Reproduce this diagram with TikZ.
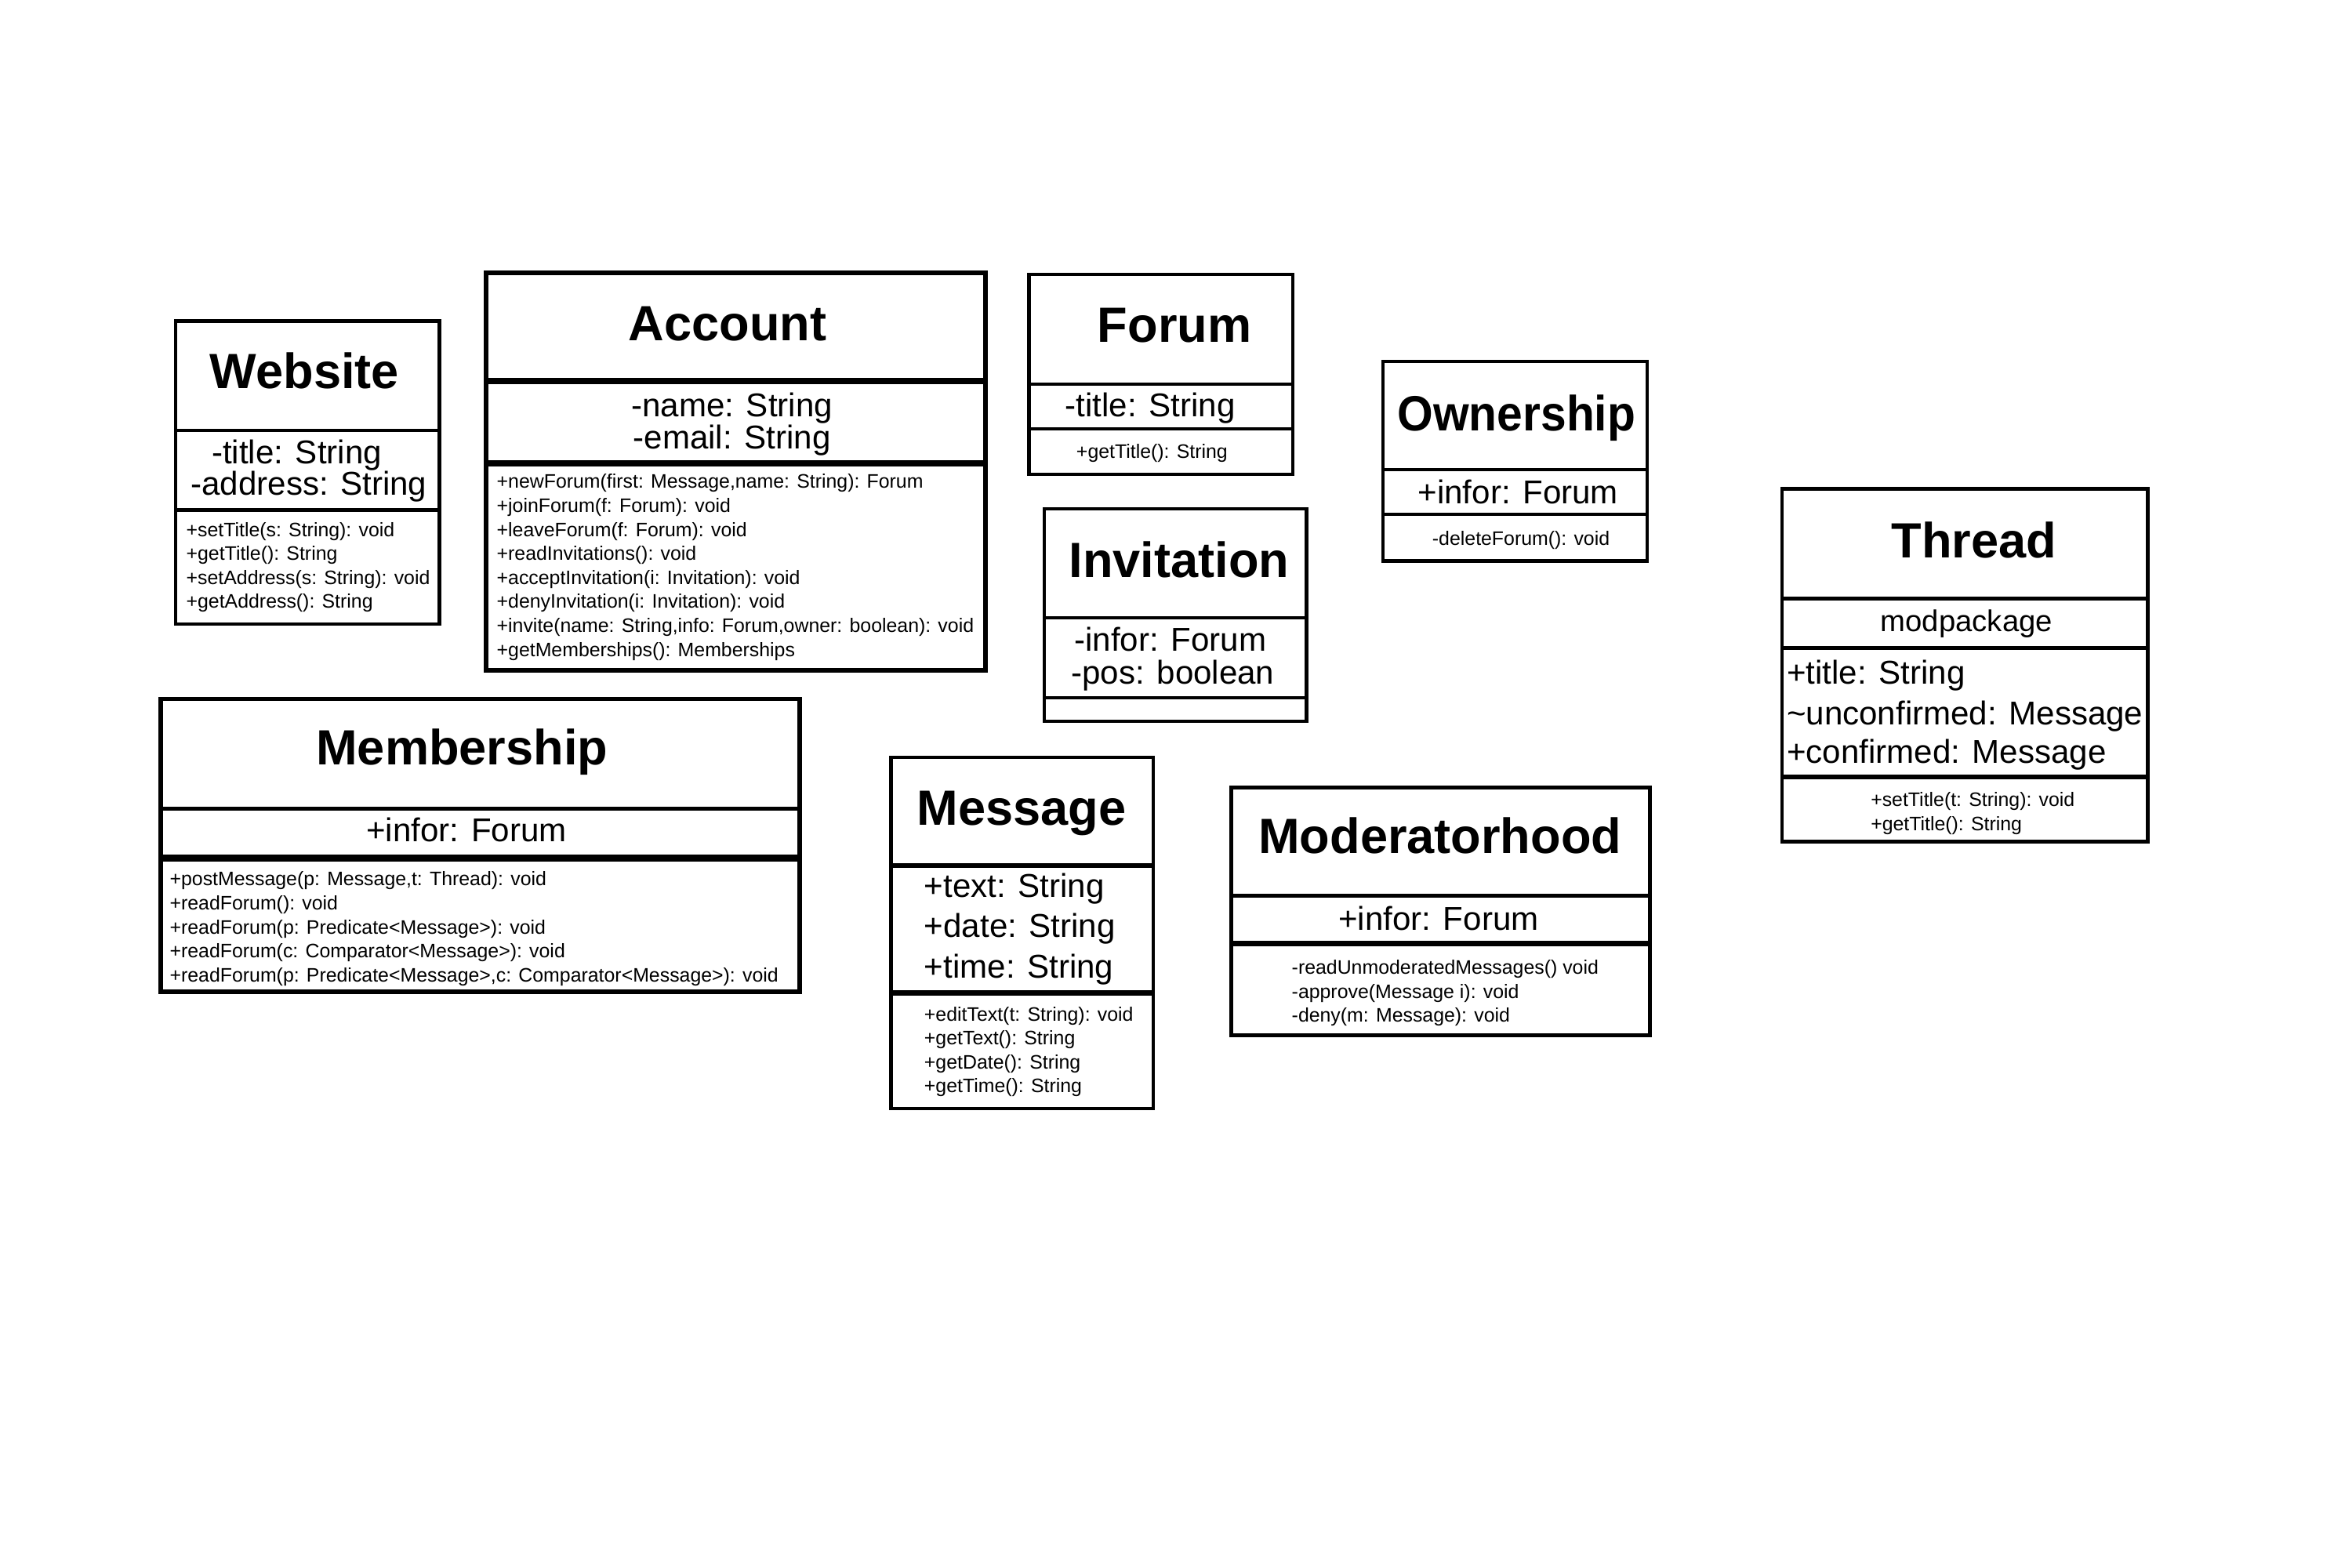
\documentclass[tikz,border=0pt]{standalone}
\usepackage{fontspec}
\setmainfont{Liberation Sans}
\begin{document}
\begin{tikzpicture}[x=1pt,y=-1pt,
  boxline/.style={line width=2.2pt},
  thickline/.style={line width=4pt},
  ttl/.style={font=\fontsize{33}{33}\selectfont\bfseries, inner sep=0pt, anchor=base},
  attr/.style={font=\fontsize{22}{22}\selectfont, inner sep=0pt, anchor=base west},
  attrc/.style={attr, anchor=base},
  pkg/.style={font=\fontsize{20}{20}\selectfont, inner sep=0pt, anchor=base},
  meth/.style={font=\fontsize{13}{16}\selectfont, inner sep=0pt, anchor=base west},
  methc/.style={meth, anchor=base}]
\useasboundingbox (0,0) rectangle (1568,1045);
\fill[white] (0,0) rectangle (1568,1045);

% ---------- Website ----------
\draw[boxline] (117,214) rectangle (293,416);
\draw[boxline] (117,287) -- (293,287);
\draw[boxline] (117,340) -- (293,340);
\node[ttl] (webT) at (203,259) {Website};
\node[attr] (webA1) at (141,309) {-title: String};
\node[attr] (webA2) at (127,330) {-address: String};
\foreach \t [count=\i] in {{+setTitle(s: String): void},{+getTitle(): String},{+setAddress(s: String): void},{+getAddress(): String}}
  \node[meth] (webM\i) at (124,{357.5+16*(\i-1)}) {\t};

% ---------- Account ----------
\draw[boxline, line width=3pt] (324,182) rectangle (657,447);
\draw[thickline] (324,254) -- (657,254);
\draw[thickline] (324,309) -- (657,309);
\node[ttl] (accT) at (485,227) {Account};
\node[attrc] (accA1) at (488,278) {-name: String};
\node[attrc] (accA2) at (488,299) {-email: String};
\foreach \t [count=\i] in {{+newForum(first: Message,name: String): Forum},{+joinForum(f: Forum): void},{+leaveForum(f: Forum): void},{+readInvitations(): void},{+acceptInvitation(i: Invitation): void},{+denyInvitation(i: Invitation): void},{+invite(name: String,info: Forum,owner: boolean): void},{+getMemberships(): Memberships}}
  \node[meth] (accM\i) at (331,{325.5+16*(\i-1)}) {\t};

% ---------- Forum ----------
\draw[boxline] (686,183) rectangle (862,316);
\draw[boxline] (686,256) -- (862,256);
\draw[boxline] (686,286) -- (862,286);
\node[ttl] (forT) at (783,228) {Forum};
\node[attr] (forA1) at (710,278) {-title: String};
\node[methc] (forM1) at (768,305.5) {+getTitle(): String};

% ---------- Invitation ----------
\draw[boxline] (696,339) rectangle (871,481);
\draw[boxline] (696,412) -- (871,412);
\draw[boxline] (696,465) -- (871,465);
\node[ttl] (invT) at (786,385) {Invitation};
\node[attr] (invA1) at (716,434) {-infor: Forum};
\node[attr] (invA2) at (714,456) {-pos: boolean};

% ---------- Ownership ----------
\draw[boxline] (922,241) rectangle (1098,374);
\draw[boxline] (922,313) -- (1098,313);
\draw[boxline] (922,343) -- (1098,343);
\node[ttl] (ownT) at (1011,287) {\scalebox{0.93}[1]{Ownership}};
\node[attrc] (ownA1) at (1012,336) {+infor: Forum};
\node[methc] (ownM1) at (1014,363.5) {-deleteForum(): void};

% ---------- Thread ----------
\draw[boxline, line width=2.6pt] (1188,326) rectangle (1432,561);
\draw[boxline, line width=2.8pt] (1188,399) -- (1432,399);
\draw[boxline, line width=2.8pt] (1188,432) -- (1432,432);
\draw[boxline, line width=2.8pt] (1188,518) -- (1432,518);
\node[ttl] (thrT) at (1316,372) {Thread};
\node[pkg] (thrP) at (1311,421) {modpackage};
\node[attr] (thrA1) at (1191,456) {+title: String};
\node[attr] (thrA2) at (1191,483) {\textasciitilde unconfirmed: Message};
\node[attr] (thrA3) at (1191,509) {+confirmed: Message};
\node[meth] (thrM1) at (1247,537.5) {+setTitle(t: String): void};
\node[meth] (thrM2) at (1247,553.5) {+getTitle(): String};

% ---------- Membership ----------
\draw[boxline, line width=3pt] (107,466) rectangle (533,661);
\draw[boxline, line width=2.8pt] (107,539) -- (533,539);
\draw[thickline, line width=5pt] (107,572) -- (533,572);
\node[ttl] (memT) at (308,510) {Membership};
\node[attrc] (memA1) at (311,561) {+infor: Forum};
\foreach \t [count=\i] in {{+postMessage(p: Message,t: Thread): void},{+readForum(): void},{+readForum(p: Predicate<Message>): void},{+readForum(c: Comparator<Message>): void},{+readForum(p: Predicate<Message>,c: Comparator<Message>): void}}
  \node[meth] (memM\i) at (113,{590.5+16*(\i-1)}) {\t};

% ---------- Message ----------
\draw[boxline] (594,505) rectangle (769,739);
\draw[boxline, line width=2.8pt] (594,577) -- (769,577);
\draw[thickline, line width=3.5pt] (594,662) -- (769,662);
\node[ttl] (msgT) at (681,550) {Message};
\node[attr] (msgA1) at (616,598) {+text: String};
\node[attr] (msgA2) at (616,625) {+date: String};
\node[attr] (msgA3) at (616,652) {+time: String};
\foreach \t [count=\i] in {{+editText(t: String): void},{+getText(): String},{+getDate(): String},{+getTime(): String}}
  \node[meth] (msgM\i) at (616,{680.5+16*(\i-1)}) {\t};

% ---------- Moderatorhood ----------
\draw[boxline, line width=2.6pt] (821,525) rectangle (1100,690);
\draw[boxline, line width=2.8pt] (821,597) -- (1100,597);
\draw[thickline] (821,629) -- (1100,629);
\node[ttl] (modT) at (960,569) {Moderatorhood};
\node[attrc] (modA1) at (959,620) {+infor: Forum};
\foreach \t [count=\i] in {{-readUnmoderatedMessages() void},{-approve(Message i): void},{-deny(m: Message): void}}
  \node[meth] (modM\i) at (861,{649.5+16*(\i-1)}) {\t};
\end{tikzpicture}
\end{document}
